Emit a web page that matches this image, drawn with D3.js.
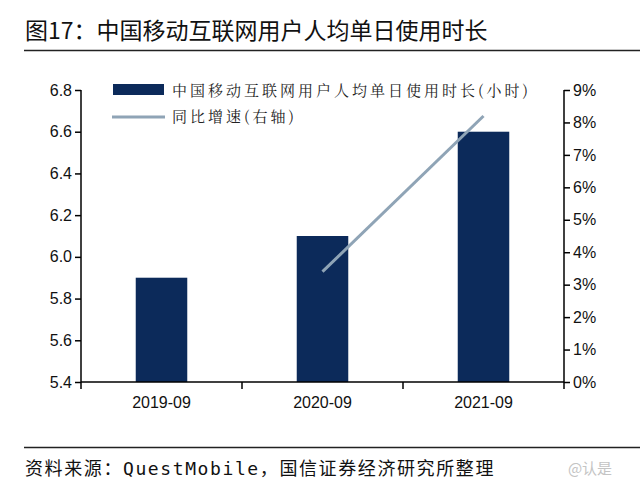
<!DOCTYPE html>
<html><head><meta charset="utf-8">
<script src="https://cdn.jsdelivr.net/npm/d3@7"></script>
<style>body{margin:0;background:#fff}svg{display:block}</style>
</head><body>
<svg id="c" width="640" height="495"></svg>
<script>
const categories = ["2019-09","2020-09","2021-09"];
const hours = [5.9, 6.1, 6.6];
const growth = [null, 3.4, 8.2];
const leftTicks = [5.4,5.6,5.8,6.0,6.2,6.4,6.6,6.8];
const rightTicks = [0,1,2,3,4,5,6,7,8,9];
const title = "图17：中国移动互联网用户人均单日使用时长";
const source = "资料来源：QuestMobile，国信证券经济研究所整理";
const legendBar = "中国移动互联网用户人均单日使用时长(小时)";
const legendLine = "同比增速(右轴)";

const svg = d3.select("#c");
const L = 81, R = 564, T = 90, B = 382;
const barColor = "#0c2a5a", lineColor = "#8fa4b6";
const x = d3.scaleBand().domain(categories).range([L, R]).paddingInner(0.68).paddingOuter(0.34);
const y = d3.scaleLinear().domain([5.4, 6.8]).range([B, T]);
const y2 = d3.scaleLinear().domain([0, 9]).range([B, T]);

// title
svg.append("text").attr("x", 25).attr("y", 39).attr("font-family", "Noto Sans CJK SC").attr("font-size", 23).attr("fill", "#111").text(title);
svg.append("line").attr("x1", 24).attr("x2", 640).attr("y1", 50.5).attr("y2", 50.5).attr("stroke", "#222").attr("stroke-width", 1.5);
svg.append("line").attr("x1", 24).attr("x2", 640).attr("y1", 447.5).attr("y2", 447.5).attr("stroke", "#222").attr("stroke-width", 1.5);
svg.append("text").attr("x", 25).attr("y", 475).attr("font-family", "DejaVu Sans Mono, Noto Sans CJK SC").attr("font-size", 18).attr("letter-spacing", 1.6).attr("fill", "#111").text(source);
svg.append("text").attr("x", 590).attr("y", 474).attr("font-family", "Noto Sans CJK SC").attr("font-size", 15).attr("fill", "#c4c4c4").attr("text-anchor","middle").text("@认是");

// bars
svg.selectAll(".bar").data(categories).enter().append("rect")
  .attr("x", d => x(d)).attr("width", x.bandwidth())
  .attr("y", (d,i) => y(hours[i])).attr("height", (d,i) => B - y(hours[i]))
  .attr("fill", barColor);

// line
const pts = categories.map((c,i) => ({c, v: growth[i]})).filter(d => d.v != null);
svg.append("path").datum(pts)
  .attr("d", d3.line().x(d => x(d.c) + x.bandwidth()/2).y(d => y2(d.v)))
  .attr("fill", "none").attr("stroke", lineColor).attr("stroke-width", 3);

const axisFont = "Liberation Sans, Arial, sans-serif";
const gl = svg.append("g").attr("transform", `translate(${L},0)`)
  .call(d3.axisLeft(y).tickValues(leftTicks).tickFormat(d3.format(".1f")).tickSize(6).tickPadding(3));
const gr = svg.append("g").attr("transform", `translate(${R},0)`)
  .call(d3.axisRight(y2).tickValues(rightTicks).tickFormat(d => d + "%").tickSize(6).tickPadding(3));
const gb = svg.append("g").attr("transform", `translate(0,${B})`)
  .call(d3.axisBottom(x).tickSize(0).tickPadding(15));
const bounds = [L, ...categories.slice(1).map(c => x(c) - x.step()*x.paddingInner()/2), R];
gb.selectAll(".bt").data(bounds).enter().append("line").attr("class","bt")
  .attr("x1", d => d).attr("x2", d => d).attr("y1", 0).attr("y2", 7).attr("stroke", "#000").attr("stroke-width", 1.5);

[gl, gr, gb].forEach(g => {
  g.select(".domain").attr("stroke", "#000").attr("stroke-width", 1.5);
  g.selectAll(".tick line").attr("stroke", "#000").attr("stroke-width", 1.5);
  g.selectAll("text").attr("font-family", axisFont).attr("font-size", 16).attr("fill", "#111");
});
gb.select(".domain").attr("d", `M${L},0H${R}`);
gl.select(".domain").attr("d", `M0,${B}V${T}`);
gr.select(".domain").attr("d", `M0,${B}V${T}`);

// legend
const legFont = "Noto Serif CJK SC, Noto Sans CJK SC";
svg.append("rect").attr("x", 113).attr("y", 84).attr("width", 51).attr("height", 11).attr("fill", barColor);
svg.append("text").attr("x", 172).attr("y", 96).attr("font-family", legFont).attr("font-size", 15).attr("letter-spacing", 3).attr("fill", "#222").text(legendBar);
svg.append("line").attr("x1", 112).attr("x2", 165).attr("y1", 117).attr("y2", 117).attr("stroke", lineColor).attr("stroke-width", 3);
svg.append("text").attr("x", 172).attr("y", 122).attr("font-family", legFont).attr("font-size", 15).attr("letter-spacing", 3).attr("fill", "#222").text(legendLine);
</script>
</body></html>
